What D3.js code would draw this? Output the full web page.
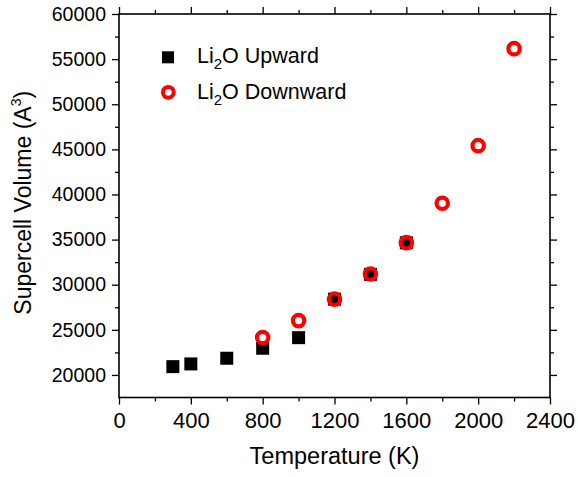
<!DOCTYPE html>
<html>
<head>
<meta charset="utf-8">
<script src="https://cdn.jsdelivr.net/npm/d3@7"></script>
<style>
  html, body { margin: 0; padding: 0; background: #fff; }
  svg text { font-family: "Liberation Sans", Arial, sans-serif; fill: #000; }
</style>
</head>
<body>
<svg id="chart" width="578" height="477"></svg>
<script>
// Data
const upwardTemps = [300, 400, 600, 800, 1000, 1200, 1400, 1600];
const upwardVolumes = [20920, 21220, 21850, 22960, 24130, 28400, 31150, 34640];
const downwardTemps = [800, 1000, 1200, 1400, 1600, 1800, 2000, 2200];
const downwardVolumes = [24140, 26020, 28400, 31190, 34660, 39020, 45410, 56160];
const xTicks = [0, 400, 800, 1200, 1600, 2000, 2400];
const yTicks = [20000, 25000, 30000, 35000, 40000, 45000, 50000, 55000, 60000];

const svg = d3.select('#chart');
const margin = { left: 119, right: 28, top: 14, bottom: 79.5 };
const W = 578, H = 477;

const x = d3.scaleLinear().domain([0, 2400]).range([margin.left, W - margin.right]);
const y = d3.scaleLinear().domain([17500, 60000]).range([H - margin.bottom, margin.top]);

const x0 = x.range()[0], x1 = x.range()[1];
const y0 = y.range()[0], y1 = y.range()[1];

// minor ticks
const xMinor = d3.range(200, 2400, 400);
const yMinor = d3.range(22500, 60000, 5000);

function drawAxis(axisGen, tx, ty, showLabels) {
    const g = svg.append('g').attr('transform', `translate(${tx},${ty})`).call(axisGen);
    g.select('.domain').remove();
    g.selectAll('line').attr('stroke', '#000').attr('stroke-width', 1.3);
    if (!showLabels) g.selectAll('text').remove();
    return g;
}

// bottom
const gx = drawAxis(d3.axisBottom(x).tickValues(xTicks).tickSize(7).tickPadding(8).tickFormat(d3.format('d')), 0, y0, true);
gx.selectAll('text').attr('font-size', 22).attr('dy', '0.71em');
drawAxis(d3.axisBottom(x).tickValues(xMinor).tickSize(4), 0, y0, false);
// top
drawAxis(d3.axisTop(x).tickValues(xTicks).tickSize(7), 0, y1, false);
drawAxis(d3.axisTop(x).tickValues(xMinor).tickSize(4), 0, y1, false);
// left
const gy = drawAxis(d3.axisLeft(y).tickValues(yTicks).tickSize(7).tickPadding(6).tickFormat(d3.format('d')), x0, 0, true);
gy.selectAll('text').attr('font-size', 19.5);
drawAxis(d3.axisLeft(y).tickValues(yMinor).tickSize(4), x0, 0, false);
// right
drawAxis(d3.axisRight(y).tickValues(yTicks).tickSize(7), x1, 0, false);
drawAxis(d3.axisRight(y).tickValues(yMinor).tickSize(4), x1, 0, false);

// frame
svg.append('rect')
    .attr('x', x0).attr('y', y1)
    .attr('width', x1 - x0).attr('height', y0 - y1)
    .attr('fill', 'none').attr('stroke', '#000').attr('stroke-width', 1.6);

// axis titles
svg.append('text')
    .attr('x', (x0 + x1) / 2).attr('y', 464)
    .attr('text-anchor', 'middle').attr('font-size', 23.5)
    .text('Temperature (K)');

const yt = svg.append('text')
    .attr('transform', `translate(30.5,${(y0 + y1) / 2 - 3}) rotate(-90)`)
    .attr('text-anchor', 'middle').attr('font-size', 23);
yt.append('tspan').text('Supercell Volume (A');
yt.append('tspan').attr('font-size', 14).attr('dy', -10).text('3');
yt.append('tspan').attr('dy', 10).text(')');

// data
const up = upwardTemps.map((t, i) => ({ t, v: upwardVolumes[i] }));
const down = downwardTemps.map((t, i) => ({ t, v: downwardVolumes[i] }));
const sq = 13;

svg.append('g').selectAll('rect')
    .data(up)
    .join('rect')
    .attr('x', d => x(d.t) - sq / 2)
    .attr('y', d => y(d.v) - sq / 2)
    .attr('width', sq).attr('height', sq)
    .attr('fill', '#000');

svg.append('g').selectAll('circle')
    .data(down)
    .join('circle')
    .attr('cx', d => x(d.t))
    .attr('cy', d => y(d.v))
    .attr('r', 5.7)
    .attr('fill', 'none')
    .attr('stroke', '#ff0000')
    .attr('stroke-width', 4.2);

// legend
const lg = svg.append('g');
lg.append('rect').attr('x', 168 - 6).attr('y', 57.3 - 6).attr('width', 12).attr('height', 12).attr('fill', '#000');
lg.append('circle').attr('cx', 168.3).attr('cy', 92.3).attr('r', 5.4)
    .attr('fill', 'none').attr('stroke', '#ff0000').attr('stroke-width', 4);

function legendText(yy, label) {
    const t = lg.append('text').attr('x', 197).attr('y', yy).attr('font-size', 21.5);
    t.append('tspan').text('Li');
    t.append('tspan').attr('font-size', 15).attr('dy', 6).text('2');
    t.append('tspan').attr('dy', -6).text('O ' + label);
}
legendText(62.7, 'Upward');
legendText(99, 'Downward');
</script>
</body>
</html>
